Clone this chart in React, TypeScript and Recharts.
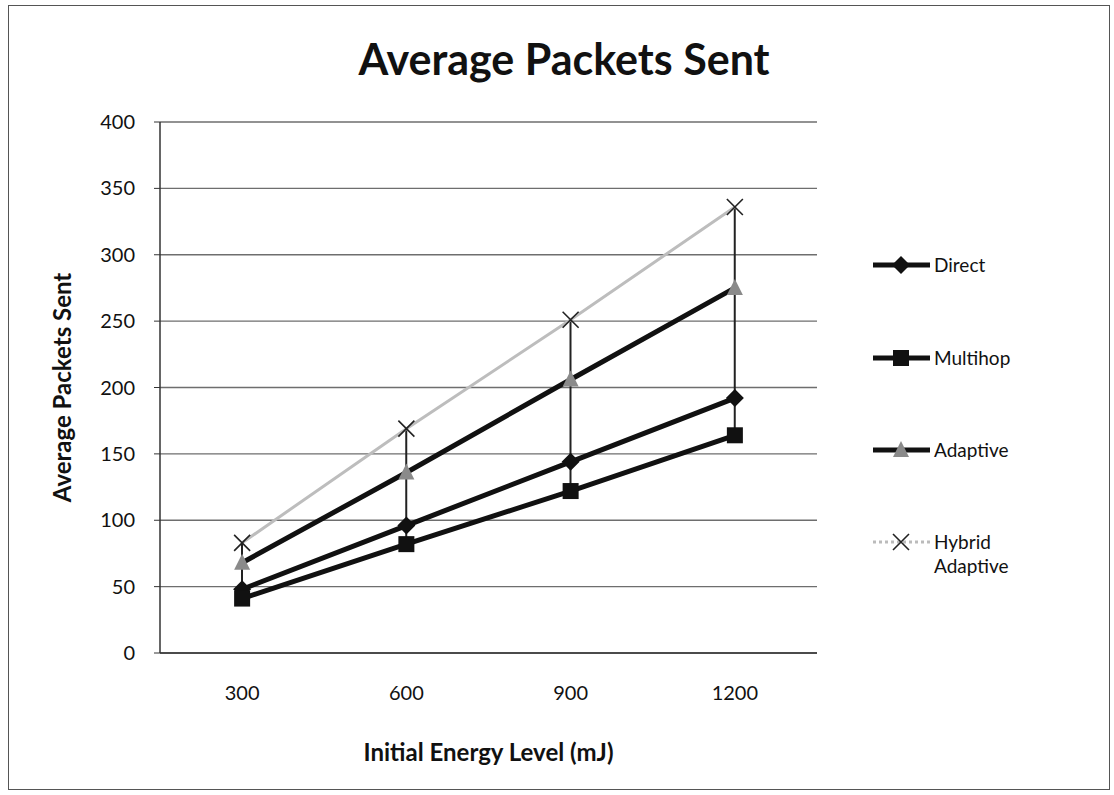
import {
  ComposedChart,
  Line,
  Bar,
  XAxis,
  YAxis,
  CartesianGrid,
  Label,
} from "recharts";

const energyLevels = ["300", "600", "900", "1200"];
const direct = [48, 96, 144, 192];
const multihop = [41, 82, 122, 164];
const adaptive = [68, 136, 206, 275];
const hybridAdaptive = [83, 169, 251, 336];
const yTicks = [0, 50, 100, 150, 200, 250, 300, 350, 400];

const FONT = "Lato, 'Open Sans', sans-serif";

const data = energyLevels.map((e, i) => {
  const vals = [direct[i], multihop[i], adaptive[i], hybridAdaptive[i]];
  return {
    energy: e,
    direct: direct[i],
    multihop: multihop[i],
    adaptive: adaptive[i],
    hybrid: hybridAdaptive[i],
    hiLo: [Math.min(...vals), Math.max(...vals)],
  };
});

// marker shapes
const diamondDot = (p: any) => (
  <path
    key={`d-${p.index}`}
    d={`M${p.cx},${p.cy - 9} L${p.cx + 9},${p.cy} L${p.cx},${p.cy + 9} L${p.cx - 9},${p.cy} Z`}
    fill="#111"
  />
);
const squareDot = (p: any) => (
  <rect key={`s-${p.index}`} x={p.cx - 8} y={p.cy - 8} width={16} height={16} fill="#111" />
);
const triangleDot = (p: any) => (
  <path
    key={`t-${p.index}`}
    d={`M${p.cx},${p.cy - 9} L${p.cx + 8},${p.cy + 7} L${p.cx - 8},${p.cy + 7} Z`}
    fill="#8a8a8a"
  />
);
const crossDot = (p: any) => (
  <path
    key={`x-${p.index}`}
    d={`M${p.cx - 8},${p.cy - 8} L${p.cx + 8},${p.cy + 8} M${p.cx + 8},${p.cy - 8} L${p.cx - 8},${p.cy + 8}`}
    stroke="#222"
    strokeWidth={1.6}
    fill="none"
  />
);

const legendItems = [
  { name: "Direct", y: 265, stroke: "#111", width: 5, dash: undefined, dot: diamondDot },
  { name: "Multihop", y: 358, stroke: "#111", width: 5, dash: undefined, dot: squareDot },
  { name: "Adaptive", y: 450, stroke: "#111", width: 5, dash: undefined, dot: triangleDot },
  { name: "Hybrid", name2: "Adaptive", y: 542, stroke: "#bbb", width: 3, dash: "3 3", dot: crossDot },
];

function ChartLegend() {
  return (
    <>
      {legendItems.map((it) => (
        <div
          key={it.name}
          style={{ position: "absolute", left: 870, top: it.y - 14, height: 28, fontFamily: FONT, fontSize: 19, color: "#111" }}
        >
          <svg width={62} height={28} style={{ position: "absolute", left: 0, top: 0 }}>
            <line x1={3} y1={14} x2={60} y2={14} stroke={it.stroke} strokeWidth={it.width} strokeDasharray={it.dash} />
            {it.dot({ cx: 31, cy: 14, index: 0 })}
          </svg>
          <div style={{ position: "absolute", left: 64, top: 2, lineHeight: "24px", whiteSpace: "nowrap" }}>
            {it.name}
            {it.name2 && <div>{it.name2}</div>}
          </div>
        </div>
      ))}
    </>
  );
}

export default function App() {
  return (
    <div style={{ position: "absolute", left: 0, top: 0, width: 1114, height: 795, background: "#fff" }}>
      <div
        style={{
          position: "absolute",
          left: 8,
          top: 5,
          width: 1102,
          height: 785,
          border: "1px solid #555",
          boxSizing: "border-box",
        }}
      />
      <div
        style={{
          position: "absolute",
          left: 0,
          top: 33,
          width: 1128,
          textAlign: "center",
          fontFamily: FONT,
          fontWeight: 700,
          fontSize: 43,
          color: "#111",
        }}
      >
        Average Packets Sent
      </div>
      <div style={{ position: "absolute", left: 0, top: 0 }}>
        <ComposedChart
          width={1114}
          height={795}
          data={data}
          margin={{ top: 122, right: 297, bottom: 32, left: 50 }}
        >
          <CartesianGrid vertical={false} stroke="#6e6e6e" strokeWidth={1.3} />
          <XAxis
            dataKey="energy"
            height={110}
            axisLine={{ stroke: "#333", strokeWidth: 1.5 }}
            tickLine={false}
            tickSize={0}
            tickMargin={33}
            tick={{ fill: "#111", fontSize: 20, fontFamily: FONT }}
          >
            <Label
              value="Initial Energy Level (mJ)"
              position="insideBottom"
              offset={2}
              style={{ fill: "#111", fontSize: 24, fontWeight: 700, fontFamily: FONT }}
            />
          </XAxis>
          <YAxis
            width={110}
            domain={[0, 400]}
            ticks={yTicks}
            interval={0}
            axisLine={{ stroke: "#333", strokeWidth: 1.5 }}
            tickLine={{ stroke: "#333" }}
            tickSize={6}
            tickMargin={19}
            tick={{ fill: "#111", fontSize: 20, fontFamily: FONT }}
          >
            <Label
              value="Average Packets Sent"
              angle={-90}
              position="insideLeft"
              offset={12}
              style={{ fill: "#111", fontSize: 24, fontWeight: 700, fontFamily: FONT, textAnchor: "middle" }}
            />
          </YAxis>
          <Bar dataKey="hiLo" barSize={2} fill="#222" legendType="none" isAnimationActive={false} />
          <Line
            dataKey="hybrid"
            name="Hybrid Adaptive"
            stroke="#bdbdbd"
            strokeWidth={3}
            dot={crossDot}
            activeDot={false}
            isAnimationActive={false}
          />
          <Line
            dataKey="adaptive"
            name="Adaptive"
            stroke="#111"
            strokeWidth={5}
            dot={triangleDot}
            activeDot={false}
            isAnimationActive={false}
          />
          <Line
            dataKey="direct"
            name="Direct"
            stroke="#111"
            strokeWidth={5}
            dot={diamondDot}
            activeDot={false}
            isAnimationActive={false}
          />
          <Line
            dataKey="multihop"
            name="Multihop"
            stroke="#111"
            strokeWidth={5}
            dot={squareDot}
            activeDot={false}
            isAnimationActive={false}
          />
        </ComposedChart>
      </div>
      <ChartLegend />
    </div>
  );
}
